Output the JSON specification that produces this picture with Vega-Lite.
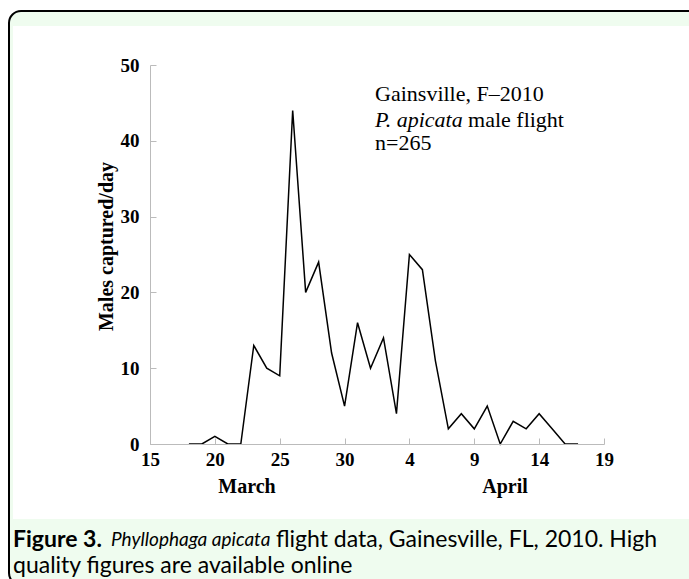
{
  "$schema": "https://vega.github.io/schema/vega-lite/v6.json",
  "width": 454,
  "height": 379,
  "autosize": {"type": "none"},
  "padding": {"left": 150, "top": 65, "right": 85, "bottom": 135},
  "background": "white",
  "config": {
    "view": {"stroke": null},
    "axis": {
      "domainColor": "#bbbbbb",
      "tickColor": "#bbbbbb",
      "tickSize": -6,
      "labelFont": "Liberation Serif",
      "labelFontWeight": "bold",
      "labelFontSize": 19,
      "labelColor": "black",
      "labelFlush": false,
      "titleFont": "Liberation Serif",
      "titleFontWeight": "bold",
      "titleFontSize": 20,
      "titleColor": "black",
      "grid": false
    }
  },
  "resolve": {"axis": {"x": "independent", "y": "independent"}},
  "datasets": {
    "flight": [
      {"day": 18, "males": 0}, {"day": 19, "males": 0}, {"day": 20, "males": 1},
      {"day": 21, "males": 0}, {"day": 22, "males": 0}, {"day": 23, "males": 13},
      {"day": 24, "males": 10}, {"day": 25, "males": 9}, {"day": 26, "males": 44},
      {"day": 27, "males": 20}, {"day": 28, "males": 24}, {"day": 29, "males": 12},
      {"day": 30, "males": 5}, {"day": 31, "males": 16}, {"day": 32, "males": 10},
      {"day": 33, "males": 14}, {"day": 34, "males": 4}, {"day": 35, "males": 25},
      {"day": 36, "males": 23}, {"day": 37, "males": 11}, {"day": 38, "males": 2},
      {"day": 39, "males": 4}, {"day": 40, "males": 2}, {"day": 41, "males": 5},
      {"day": 42, "males": 0}, {"day": 43, "males": 3}, {"day": 44, "males": 2},
      {"day": 45, "males": 4}, {"day": 46, "males": 2}, {"day": 47, "males": 0},
      {"day": 48, "males": 0}
    ]
  },
  "layer": [
    {
      "data": {"values": [{}]},
      "mark": {"type": "rect", "fill": "#effcef", "stroke": "black", "strokeWidth": 2, "cornerRadius": 12},
      "encoding": {
        "x": {"datum": 4.13, "type": "quantitative", "axis": null},
        "x2": {"datum": 58.94},
        "y": {"datum": 57.12, "type": "quantitative", "axis": null},
        "y2": {"datum": -18.6}
      }
    },
    {
      "data": {"values": [{}]},
      "mark": {"type": "rect", "fill": "white"},
      "encoding": {
        "x": {"datum": 4.438, "type": "quantitative", "axis": null},
        "x2": {"datum": 57.4},
        "y": {"datum": 55.15, "type": "quantitative", "axis": null},
        "y2": {"datum": -9.89}
      }
    },
    {
      "data": {"name": "flight"},
      "mark": {"type": "line", "color": "black", "strokeWidth": 1.5},
      "encoding": {
        "x": {
          "field": "day", "type": "quantitative",
          "scale": {"domain": [15, 50], "nice": false, "zero": false},
          "axis": {
            "values": [15, 20, 25, 30, 35, 40, 45, 50],
            "labelExpr": "datum.value > 31 ? datum.value - 31 : datum.value",
            "labelPadding": 12,
            "title": null,
            "zindex": 2
          }
        },
        "y": {
          "field": "males", "type": "quantitative",
          "scale": {"domain": [0, 50], "nice": false},
          "axis": {
            "values": [0, 10, 20, 30, 40, 50],
            "labelPadding": 17,
            "title": "Males captured/day",
            "titlePadding": 4,
            "titleY": 181,
            "zindex": 2
          }
        }
      }
    },
    {
      "data": {"values": [{}]},
      "mark": {"type": "text", "align": "left", "baseline": "alphabetic", "font": "Liberation Serif", "fontSize": 22, "color": "black"},
      "encoding": {
        "x": {"datum": 32.35, "type": "quantitative", "axis": null},
        "y": {"datum": 45.25, "type": "quantitative", "axis": null},
        "text": {"value": "Gainsville, F–2010"}
      }
    },
    {
      "data": {"values": [{}]},
      "mark": {"type": "text", "align": "left", "baseline": "alphabetic", "font": "Liberation Serif", "fontSize": 22, "fontStyle": "italic", "color": "black"},
      "encoding": {
        "x": {"datum": 32.35, "type": "quantitative", "axis": null},
        "y": {"datum": 41.82, "type": "quantitative", "axis": null},
        "text": {"value": "P. apicata"}
      }
    },
    {
      "data": {"values": [{}]},
      "mark": {"type": "text", "align": "left", "baseline": "alphabetic", "font": "Liberation Serif", "fontSize": 22, "color": "black", "dx": 93},
      "encoding": {
        "x": {"datum": 32.35, "type": "quantitative", "axis": null},
        "y": {"datum": 41.82, "type": "quantitative", "axis": null},
        "text": {"value": "male flight"}
      }
    },
    {
      "data": {"values": [{}]},
      "mark": {"type": "text", "align": "left", "baseline": "alphabetic", "font": "Liberation Serif", "fontSize": 22, "color": "black"},
      "encoding": {
        "x": {"datum": 32.35, "type": "quantitative", "axis": null},
        "y": {"datum": 38.79, "type": "quantitative", "axis": null},
        "text": {"value": "n=265"}
      }
    },
    {
      "data": {"values": [{"month": "March", "mid": 22.48}, {"month": "April", "mid": 42.37}]},
      "mark": {"type": "text", "align": "center", "baseline": "middle", "font": "Liberation Serif", "fontSize": 20, "fontWeight": "bold", "color": "black"},
      "encoding": {
        "x": {"field": "mid", "type": "quantitative", "axis": null},
        "y": {"datum": -5.67, "type": "quantitative", "axis": null},
        "text": {"field": "month"}
      }
    },
    {
      "data": {"values": [{}]},
      "mark": {"type": "text", "align": "left", "baseline": "middle", "font": "Lato", "fontSize": 23, "fontWeight": "bold", "color": "black"},
      "encoding": {
        "x": {"datum": 4.438, "type": "quantitative", "axis": null},
        "y": {"datum": -12.6, "type": "quantitative", "axis": null},
        "text": {"value": "Figure 3."}
      }
    },
    {
      "data": {"values": [{}]},
      "mark": {"type": "text", "align": "left", "baseline": "middle", "font": "Lato", "fontSize": 19, "fontStyle": "italic", "color": "black", "dx": 98},
      "encoding": {
        "x": {"datum": 4.438, "type": "quantitative", "axis": null},
        "y": {"datum": -12.6, "type": "quantitative", "axis": null},
        "text": {"value": "Phyllophaga apicata"}
      }
    },
    {
      "data": {"values": [{}]},
      "mark": {"type": "text", "align": "left", "baseline": "middle", "font": "Lato", "fontSize": 23, "color": "black", "dx": 263},
      "encoding": {
        "x": {"datum": 4.438, "type": "quantitative", "axis": null},
        "y": {"datum": -12.6, "type": "quantitative", "axis": null},
        "text": {"value": "flight data, Gainesville, FL, 2010. High"}
      }
    },
    {
      "data": {"values": [{}]},
      "mark": {"type": "text", "align": "left", "baseline": "middle", "font": "Lato", "fontSize": 23, "color": "black"},
      "encoding": {
        "x": {"datum": 4.438, "type": "quantitative", "axis": null},
        "y": {"datum": -16.1, "type": "quantitative", "axis": null},
        "text": {"value": "quality figures are available online"}
      }
    }
  ]
}
